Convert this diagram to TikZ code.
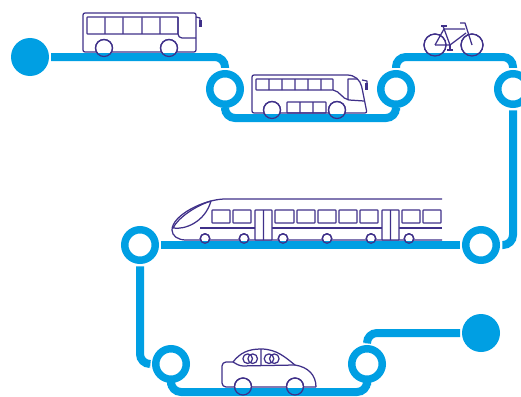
\documentclass[tikz,border=0pt]{standalone}
\usepackage{xcolor}
\usetikzlibrary{positioning}
\definecolor{routeblue}{HTML}{009FE3}
\definecolor{inkpurple}{HTML}{3F3089}

\begin{document}
\begin{tikzpicture}[
  x=1pt, y=-1pt,
  stopring/.style={circle, draw=routeblue, fill=white, line width=7.5pt, minimum size=30.5pt,
                   inner sep=0pt, outer sep=6pt},
  stopdot/.style={circle, fill=routeblue, minimum size=38pt, inner sep=0pt, outer sep=2pt},
  route/.style={draw=routeblue, line width=8pt, rounded corners=10pt},
  ink/.style={draw=inkpurple, line width=1.25pt, line join=round},
  pane/.style={ink, rounded corners=0.6pt},
  tyre/.style={ink, fill=white}
]
\useasboundingbox (0,0) rectangle (521,396);

% first bus
\draw[ink, rounded corners=2pt] (83,13) rectangle (196,52);
\draw[pane] (87,17) rectangle (178,34);
\foreach \xa in {105,123,142,160}
  \draw[ink] (\xa,17.3) -- (\xa+0.01,34);
\draw[ink, rounded corners=4pt] (178,17) -- (178,38) -- (196,38);
\draw[ink] (196,17) -- (200,18) -- (200,20);
\fill[inkpurple] (198.5,20) rectangle (201.5,27);
\foreach \xa in {104,169}
  \node[tyre, circle, minimum size=17pt, inner sep=0pt] (bus\xa) at (\xa,48) {};

% second bus
\draw[ink, rounded corners=2pt] (252,113) -- (252,75) -- (345,75)
  .. controls (355,75) and (360,80) .. (362,88) -- (367,113) -- cycle;
\draw[pane] (256,79) rectangle (333,90);
\foreach \xa in {269,282,295,308,321}
  \draw[ink] (\xa,79) -- (\xa+0.01,90);
\draw[ink] (333,90) .. controls (340,91) and (342,99) .. (349,100) -- (364,101);
\draw[ink] (348,100) -- (348.01,79) -- (357,79.01);
\draw[ink] (362,80) -- (367,81) -- (367,84);
\fill[inkpurple] (365,83) rectangle (368,90);
\draw[pane] (287,102) rectangle (326,113);
\foreach \xa in {300,313}
  \draw[ink] (\xa,102) -- (\xa+0.01,113);
\foreach \xa in {272,337}
  \node[tyre, circle, minimum size=17pt, inner sep=0pt] (coach\xa) at (\xa,110) {};

% bicycle
\draw[ink] (435,45) -- (450,45) -- (443,26);
\draw[ink] (435,45) -- (444,29) -- (465,29);
\draw[ink] (450,45) -- (466,33);
\draw[ink] (441,26) -- (447,26);
\draw[ink] (447,50) -- (453,50) (450,45) -- (450,50);
\draw[ink] (460,23) -- (465,23) -- (472,45);
\foreach \xa in {435,472}
  \draw[ink] (\xa,45) circle (11);

% train
\draw[ink] (442,199) -- (225,199) .. controls (205,199) and (172,215) .. (172,230)
  .. controls (172,236) and (178,240) .. (186,240) -- (442,240);
\draw[ink] (211,201) .. controls (195,206) and (178,218) .. (173,228)
  .. controls (185,230) and (205,222) .. (211,201);
\draw[ink] (200,228) -- (442,228);
\foreach \xa/\xb in {212/230,233/251,275/294,297/315,318/336,339/357,360/378,402/420,423/441}
  \draw[pane, fill=white] (\xa,210) rectangle (\xb,223);
\foreach \xa in {255,382}{
  \draw[pane, fill=white] (\xa,210) rectangle ++(17,30);
  \draw[ink] (\xa+8.5,210) -- (\xa+8.51,240);
}
\foreach \xa in {205,244,283,327,371,409}
  \node[tyre, circle, minimum size=9.5pt, inner sep=0pt] (train\xa) at (\xa,238.5) {};

% car
\draw[ink, rounded corners=4pt] (316,387) -- (222,387) -- (222,362) -- (233,362);
\draw[ink] (233,362) .. controls (240,353) and (248,349) .. (261,349)
  .. controls (277,349) and (286,358) .. (295,365)
  .. controls (308,367) and (316,375) .. (316,387);
\draw[ink, rounded corners=3pt] (233,362) -- (240,366) -- (295,365);
\draw[ink] (261,349) -- (261.01,365);
\foreach \xa in {247.7,252.7,269,274.3}
  \draw[ink] (\xa,358.7) circle (4.8);
\foreach \xa in {243,295}
  \node[tyre, circle, minimum size=17pt, inner sep=0pt] (car\xa) at (\xa,386.5) {};

% stops
\node[stopdot] (start) at (30,57) {};
\node[stopring] (stopa) at (225,89) {};
\node[stopring] (stopb) at (396,89) {};
\node[stopring] (stopc) at (513,89) {};
\node[stopring] (stopd) at (481,245) {};
\node[stopring] (stope) at (140,245) {};
\node[stopring] (stopf) at (171,364) {};
\node[stopring] (stopg) at (367,364) {};
\node[stopdot] (finish) at (481,333) {};

\coordinate (lowa) at (225,118);
\coordinate (lowb) at (396,118);
\coordinate (higha) at (396,57);
\coordinate (highb) at (513,57);
\coordinate (lowf) at (171,392);
\coordinate (lowg) at (367,392);

\draw[route] (start.east) -| (stopa.north);
\draw[route] (stopa.south) -- (lowa) -- (lowb) -- (stopb.south);
\draw[route] (stopb.north) -- (higha) -- (highb) -- (stopc.north);
\draw[route] (stopc.south) |- (stopd.east);
\draw[route] (stopd.west) -- (stope.east);
\draw[route] (stope.south) |- (stopf.west);
\draw[route] (stopf.south) -- (lowf) -- (lowg) -- (stopg.south);
\draw[route] (stopg.north) |- (finish.west);

% tyres stay visible over the route
\foreach \xa/\ya/\ra in {104/48/8.5,169/48/8.5,272/110/8.5,337/110/8.5,435/45/11,472/45/11,
    205/238.5/4.75,244/238.5/4.75,283/238.5/4.75,327/238.5/4.75,371/238.5/4.75,409/238.5/4.75,
    243/386.5/8.5,295/386.5/8.5}
  \draw[ink] (\xa,\ya) circle (\ra);
\end{tikzpicture}
\end{document}
